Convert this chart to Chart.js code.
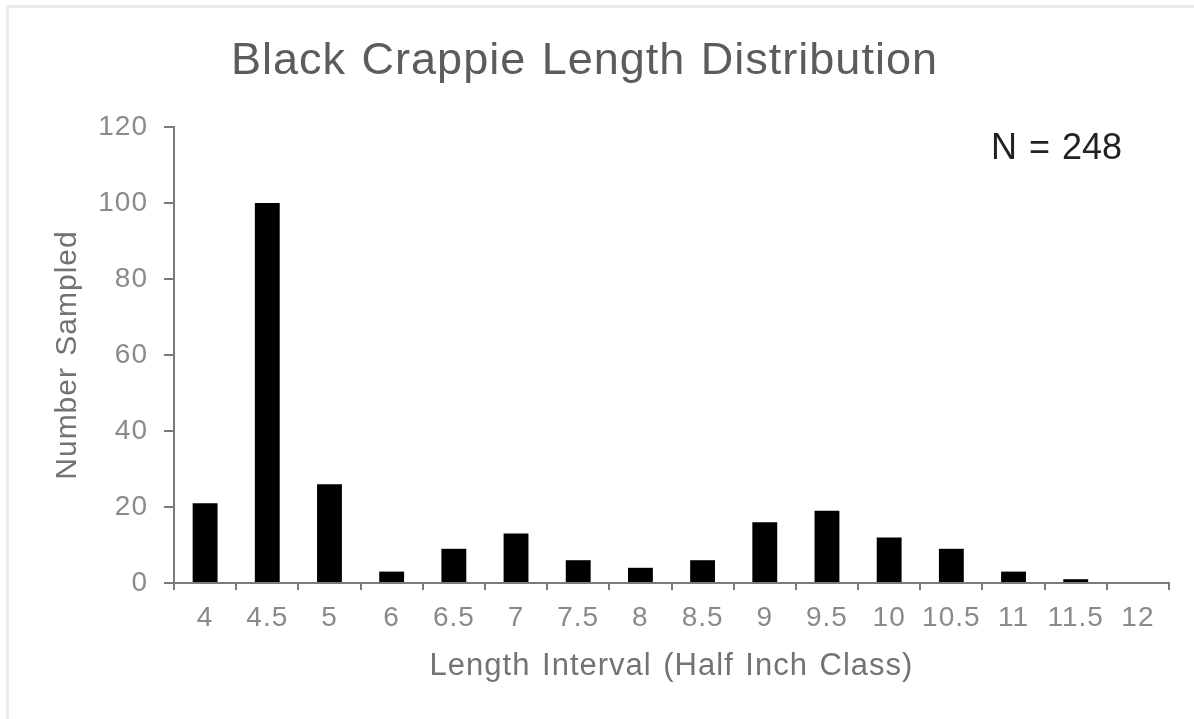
<!DOCTYPE html>
<html>
<head>
<meta charset="utf-8">
<script src="https://cdn.jsdelivr.net/npm/chart.js@4.4.0/dist/chart.umd.min.js"></script>
<style>
  html, body { margin:0; padding:0; background:#fff; }
  #wrap { position:relative; width:1194px; height:719px; overflow:hidden; }
  #frame { position:absolute; left:6px; top:5px; right:0; bottom:0;
           border-top:3px solid #ececec; border-left:3px solid #ececec; }
  #c { position:absolute; left:0; top:0; }
</style>
</head>
<body>
<div id="wrap">
  <div id="frame"></div>
  <canvas id="c" width="1194" height="719"></canvas>
</div>
<script>
/* ---------- data ---------- */
const lengthClasses = ["4","4.5","5","6","6.5","7","7.5","8","8.5","9","9.5","10","10.5","11","11.5","12"];
const numberSampled = [21,100,26,3,9,13,6,4,6,16,19,12,9,3,1,0];
const yTicks = [0,20,40,60,80,100,120];
const sampleLabel = "N = 248";

const FONT = "'Liberation Sans', Arial, sans-serif";
const AXIS = "#7a7a7a";

// the original text is set a bit loose, so widen the spacing for all canvas text
const spacingPlugin = {
  id:"spacing",
  beforeDraw(chart){
    chart.ctx.letterSpacing = "1px";
    chart.ctx.wordSpacing = "2px";
  }
};

// "N = 248" note in the top right of the plot
const notePlugin = {
  id:"note",
  afterDraw(chart){
    const {ctx, chartArea:a} = chart;
    ctx.save();
    ctx.letterSpacing = "0px";
    ctx.font = `36px ${FONT}`;
    ctx.fillStyle = "#222";
    ctx.textAlign = "right";
    ctx.textBaseline = "middle";
    ctx.fillText(sampleLabel, a.right - 47, a.top + 22);
    ctx.restore();
  }
};

new Chart(document.getElementById("c"), {
  type:"bar",
  data:{
    labels:lengthClasses,
    datasets:[{
      label:"Number Sampled",
      data:numberSampled,
      backgroundColor:"#000",
      borderWidth:0,
      barPercentage:0.4,
      categoryPercentage:1
    }]
  },
  options:{
    responsive:false,
    animation:false,
    layout:{padding:{left:0, right:25, top:0, bottom:0}},
    plugins:{
      legend:{display:false},
      tooltip:{enabled:false},
      title:{
        display:true,
        text:"Black Crappie Length Distribution",
        color:"#5c5c5c",
        font:{family:FONT, size:45, weight:"normal", lineHeight:1.2},
        padding:{top:35, bottom:38}
      }
    },
    scales:{
      x:{
        afterFit:s=>{ s.height = 136; },
        grid:{display:true, drawOnChartArea:false, drawTicks:true, tickLength:7,
              color:AXIS, lineWidth:2, offset:true},
        border:{display:true, color:AXIS, width:2},
        ticks:{color:"#8a8a8a", padding:11, maxRotation:0, autoSkip:false,
               font:{family:FONT, size:28}},
        title:{display:true, text:"Length Interval (Half Inch Class)", color:"#737373",
               font:{family:FONT, size:31}, padding:{top:0, bottom:34}}
      },
      y:{
        min:0, max:120,
        afterFit:s=>{ s.width = 174; },
        afterBuildTicks:s=>{ s.ticks = yTicks.map(v=>({value:v})); },
        grid:{display:true, drawOnChartArea:false, drawTicks:true, tickLength:10,
              color:AXIS, lineWidth:2},
        border:{display:true, color:AXIS, width:2},
        ticks:{color:"#8a8a8a", padding:16, font:{family:FONT, size:28}},
        title:{display:true, text:"Number Sampled", color:"#737373",
               font:{family:FONT, size:30}, padding:{top:50, bottom:0}}
      }
    }
  },
  plugins:[spacingPlugin, notePlugin]
});
</script>
</body>
</html>
